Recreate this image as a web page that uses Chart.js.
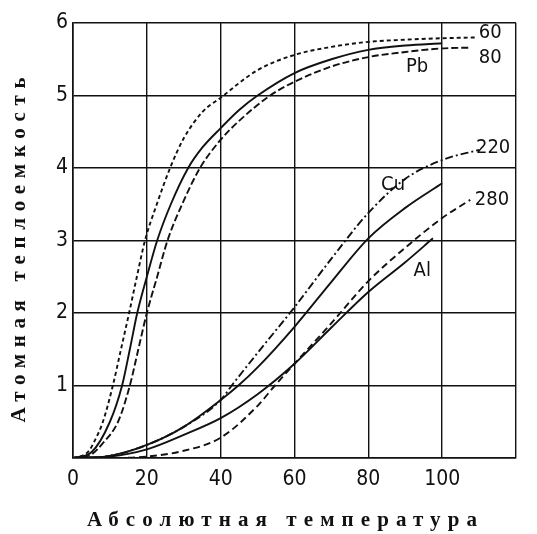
<!DOCTYPE html>
<html><head><meta charset="utf-8">
<script src="https://cdn.jsdelivr.net/npm/chart.js@4/dist/chart.umd.min.js"></script>
<style>html,body{margin:0;padding:0;background:#fff}#wrap{width:537px;height:534px}</style>
</head><body><div id="wrap"><canvas id="c" width="537" height="534"></canvas></div>
<script>
// ---- data (T in K, C in cal/(g-atom K)) ----
const pb60T = [0, 4, 6, 8.1, 10.8, 13, 15.2, 17.3, 19.5, 22.7, 26.3, 30, 35, 40, 50, 60, 70, 80, 90, 100, 109];
const pb60C = [0, 0.08, 0.25, 0.5, 1.0, 1.5, 2.0, 2.5, 3.0, 3.5, 4.0, 4.41, 4.77, 4.97, 5.35, 5.56, 5.67, 5.74, 5.77, 5.79, 5.8];
const pbT = [0, 5, 10, 13.3, 15.4, 17.4, 20, 22.8, 26.5, 31.2, 35, 40, 45, 50, 60, 70, 80, 90, 100];
const pbC = [0, 0.08, 0.5, 1.0, 1.5, 2.0, 2.5, 3.0, 3.5, 4.0, 4.28, 4.55, 4.8, 5.0, 5.31, 5.5, 5.63, 5.69, 5.72];
const pb80T = [0, 5, 8, 12.2, 15.4, 17.7, 20, 22.8, 25.6, 30, 34.4, 40, 45, 53.4, 60, 70, 80, 90, 100, 107.6];
const pb80C = [0, 0.05, 0.2, 0.5, 1.0, 1.5, 2.0, 2.5, 3.0, 3.55, 4.0, 4.39, 4.65, 5.0, 5.19, 5.4, 5.53, 5.6, 5.65, 5.66];
const cu220T = [0, 10, 20, 30, 40, 43, 50, 60, 70, 80, 90, 100, 110];
const cu220C = [0, 0.03, 0.18, 0.43, 0.8, 1.0, 1.45, 2.08, 2.75, 3.38, 3.85, 4.11, 4.25];
const cuT = [0, 10, 20, 30, 40, 44.8, 50, 60, 70, 80, 90, 100];
const cuC = [0, 0.03, 0.18, 0.43, 0.8, 1.0, 1.25, 1.81, 2.43, 3.03, 3.45, 3.79];
const alT = [0, 10, 20, 30, 40, 50, 60, 70, 80, 90, 97.5];
const alC = [0, 0.02, 0.12, 0.32, 0.55, 0.88, 1.3, 1.8, 2.29, 2.7, 3.03];
const al280T = [0, 10, 20, 30, 40, 50, 54.7, 60, 70, 80, 90, 100, 107.6];
const al280C = [0, 0.0, 0.02, 0.1, 0.28, 0.72, 1.0, 1.3, 1.86, 2.44, 2.9, 3.31, 3.56];

const xTickLabels = ['0', '20', '40', '60', '80', '100', ''];
const yTickLabels = ['', '1', '2', '3', '4', '5', '6'];
const curveLabels = ['60', '80', 'Pb', '220', 'Cu', '280', 'Al'];
const curveLabelT = [113, 113, 93.2, 113.8, 86.7, 113.5, 94.6];
const curveLabelC = [5.86, 5.52, 5.39, 4.28, 3.77, 3.56, 2.58];
const xTitle = 'Абсолютная температура';
const yTitle = 'Атомная теплоемкость';

const tickFont = "'DejaVu Sans Condensed', 'Liberation Sans', sans-serif";
const titleFont = "'Liberation Serif', 'DejaVu Serif', serif";

function pts(T, C) { return T.map((t, i) => ({ x: t, y: C[i] })); }
function ds(label, T, C, dash) {
  return { label, data: pts(T, C), borderColor: '#111', borderWidth: 1.9, borderDash: dash,
    pointRadius: 0, fill: false, cubicInterpolationMode: 'monotone' };
}

const labelsPlugin = {
  id: 'labels',
  afterDraw(chart) {
    const ctx = chart.ctx, xs = chart.scales.x, ys = chart.scales.y;
    ctx.save();
    ctx.fillStyle = '#111';
    ctx.font = '20px ' + tickFont;
    ctx.textAlign = 'center';
    ctx.textBaseline = 'middle';
    curveLabels.forEach((s, i) => {
      ctx.fillText(s, xs.getPixelForValue(curveLabelT[i]), ys.getPixelForValue(curveLabelC[i]));
    });
    // axis titles with wide letter spacing
    function spaced(text, cx, cy, target) {
      ctx.font = 'bold 21px ' + titleFont;
      ctx.letterSpacing = '0px';
      const w = ctx.measureText(text).width;
      const sp = (target - w) / (text.length - 1);
      ctx.letterSpacing = sp + 'px';
      ctx.textAlign = 'left';
      ctx.textBaseline = 'middle';
      ctx.fillText(text, cx - target / 2, cy);
      ctx.letterSpacing = '0px';
    }
    spaced(xTitle, 282, 521, 390);
    ctx.save();
    ctx.translate(20, 250);
    ctx.rotate(-Math.PI / 2);
    spaced(yTitle, 0, 0, 345);
    ctx.restore();
    ctx.restore();
  }
};

new Chart(document.getElementById('c'), {
  type: 'line',
  data: {
    datasets: [
      ds('60', pb60T, pb60C, [4, 3]),
      ds('Pb', pbT, pbC, []),
      ds('80', pb80T, pb80C, [7, 3]),
      ds('220', cu220T, cu220C, [8, 3, 2, 3]),
      ds('Cu', cuT, cuC, []),
      ds('Al', alT, alC, []),
      ds('280', al280T, al280C, [7, 4])
    ]
  },
  options: {
    responsive: false,
    animation: false,
    layout: { padding: { left: 0, right: 21, top: 23, bottom: 0 } },
    plugins: { legend: { display: false }, tooltip: { enabled: false }, title: { display: false } },
    scales: {
      x: {
        type: 'linear', min: 0, max: 120,
        afterFit(s) { s.height = 76; },
        grid: { color: '#111', lineWidth: 1.4, drawTicks: false },
        border: { color: '#111', width: 1.6 },
        ticks: { stepSize: 20, padding: 9, color: '#111', maxRotation: 0,
          font: { family: tickFont, size: 21 },
          callback: (v) => xTickLabels[Math.round(v / 20)] }
      },
      y: {
        type: 'linear', min: 0, max: 6,
        afterFit(s) { s.width = 73; },
        grid: { color: '#111', lineWidth: 1.4, drawTicks: false },
        border: { color: '#111', width: 1.6 },
        ticks: { stepSize: 1, padding: 5, color: '#111',
          font: { family: tickFont, size: 21 },
          callback: (v) => yTickLabels[Math.round(v)] }
      }
    }
  },
  plugins: [labelsPlugin]
});
</script>
</body></html>
